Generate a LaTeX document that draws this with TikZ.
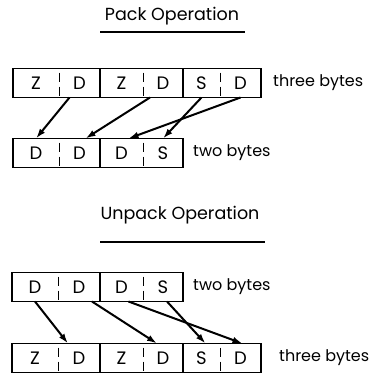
\documentclass[tikz,border=0pt]{standalone}
\usepackage{fontspec}
\setmainfont{Poppins}
\usetikzlibrary{arrows.meta,positioning}

\tikzset{
	nib/.style={minimum height=29pt, inner sep=0pt, outer sep=0pt, font=\fontsize{18}{20}\selectfont},
	box/.style={line width=1.4pt},
	half/.style={line width=1pt, dash pattern=on 9pt off 5pt, dash phase=-4pt},
	move/.style={line width=2pt, -{Latex[length=10pt,width=6.5pt]}},
	label/.style={anchor=west, inner sep=0pt, font=\fontsize{16}{18}\selectfont},
	title/.style={font=\fontsize{17.5}{19}\selectfont, inner sep=1pt}
}

\begin{document}
\begin{tikzpicture}[x=1pt,y=-1pt]
	\useasboundingbox (0,0) rectangle (375,375);

	% pack: three bytes in, two bytes out
	\node[title] (packt) at (172,16) {Pack Operation};
	\draw[box] (100,32) -- (245,32);

	\node[nib, anchor=west, minimum width=46pt] (pz1) at (13,83) {Z};
	\node[nib, minimum width=41pt, right=0pt of pz1] (pd1) {D};
	\node[nib, minimum width=43pt, right=0pt of pd1] (pz2) {Z};
	\node[nib, minimum width=40pt, right=0pt of pz2] (pd2) {D};
	\node[nib, minimum width=37pt, right=0pt of pd2] (ps3) {S};
	\node[nib, minimum width=41pt, right=0pt of ps3] (pd3) {D};
	\node[label] (pthree) at (273,83) {three bytes};

	\node[nib, anchor=west, minimum width=46pt] (qd1) at (13,153) {D};
	\node[nib, minimum width=41pt, right=0pt of qd1] (qd2) {D};
	\node[nib, minimum width=43pt, right=0pt of qd2] (qd3) {D};
	\node[nib, minimum width=40pt, right=0pt of qd3] (qs4) {S};
	\node[label] (ptwo) at (193,153) {two bytes};

	\draw[box] (pz1.north west) rectangle (pd1.south east);
	\draw[box] (pz2.north west) rectangle (pd2.south east);
	\draw[box] (ps3.north west) rectangle (pd3.south east);
	\draw[box] (qd1.north west) rectangle (qd2.south east);
	\draw[box] (qd3.north west) rectangle (qs4.south east);
	\foreach \n in {pz1,pz2,ps3,qd1,qd3}
		\draw[half] (\n.north east) -- (\n.south east);

	\draw[move] ([xshift=-10pt]pd1.south) -- (qd1.north);
	\draw[move] ([xshift=-13pt]pd2.south) -- ([xshift=6pt]qd2.north);
	\draw[move] (ps3.south) -- (qs4.north);
	\draw[move] (pd3.south) -- ([xshift=7pt]qd3.north);

	% unpack: two bytes in, three bytes out
	\node[title] (unpackt) at (180,215) {Unpack Operation};
	\draw[box] (100,242) -- (265,242);

	\node[nib, anchor=west, minimum width=46pt] (ud1) at (12,287) {D};
	\node[nib, minimum width=42pt, right=0pt of ud1] (ud2) {D};
	\node[nib, minimum width=43pt, right=0pt of ud2] (ud3) {D};
	\node[nib, minimum width=40pt, right=0pt of ud3] (us4) {S};
	\node[label] (utwo) at (193,287) {two bytes};

	\node[nib, anchor=west, minimum width=46pt] (vz1) at (12,358) {Z};
	\node[nib, minimum width=42pt, right=0pt of vz1] (vd1) {D};
	\node[nib, minimum width=43pt, right=0pt of vd1] (vz2) {Z};
	\node[nib, minimum width=40pt, right=0pt of vz2] (vd2) {D};
	\node[nib, minimum width=37pt, right=0pt of vd2] (vs3) {S};
	\node[nib, minimum width=41pt, right=0pt of vs3] (vd3) {D};
	\node[label] (uthree) at (279,358) {three bytes};

	\draw[box] (ud1.north west) rectangle (ud2.south east);
	\draw[box] (ud3.north west) rectangle (us4.south east);
	\draw[box] (vz1.north west) rectangle (vd1.south east);
	\draw[box] (vz2.north west) rectangle (vd2.south east);
	\draw[box] (vs3.north west) rectangle (vd3.south east);
	\foreach \n in {ud1,ud3,vz1,vz2,vs3}
		\draw[half] (\n.north east) -- (\n.south east);

	\draw[move] (ud1.south) -- ([xshift=-11pt]vd1.north);
	\draw[move] ([xshift=13pt]ud2.south) -- ([xshift=-6pt]vd2.north);
	\draw[move] ([xshift=7pt]ud3.south) -- ([xshift=2pt]vd3.north);
	\draw[move] ([xshift=4pt]us4.south) -- ([xshift=4pt]vs3.north);
\end{tikzpicture}
\end{document}
